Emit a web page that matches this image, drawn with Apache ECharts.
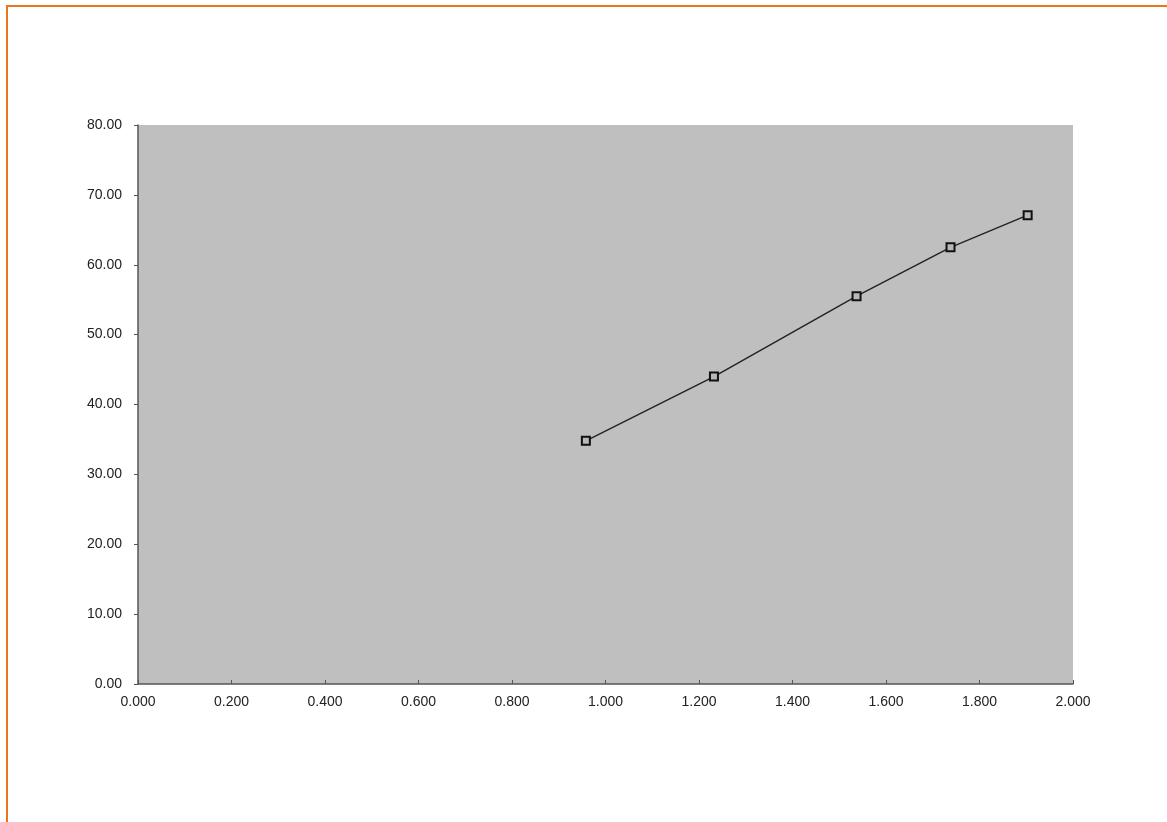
<!DOCTYPE html>
<html>
<head>
<meta charset="utf-8">
<script src="https://cdn.jsdelivr.net/npm/echarts@6/dist/echarts.min.js"></script>
<style>
html,body{margin:0;padding:0;background:#fff;}
#frame{position:absolute;left:6px;top:5px;width:1161px;height:817px;border-top:2px solid #E8761E;border-left:2px solid #E8761E;box-sizing:border-box;}
#chart{position:absolute;left:0;top:0;width:1167px;height:822px;}
</style>
</head>
<body>
<div id="frame"></div>
<div id="chart"></div>
<script>
var xValues = [0.958, 1.232, 1.537, 1.738, 1.903];
var yValues = [34.8, 44.0, 55.5, 62.5, 67.1];
var xTicks = {min: 0, max: 2, interval: 0.2};
var yTicks = {min: 0, max: 80, interval: 10};

var chart = echarts.init(document.getElementById('chart'), null, {renderer: 'canvas'});
var pts = xValues.map(function (x, i) { return [x, yValues[i]]; });
chart.setOption({
  animation: false,
  grid: {left: 138, right: 94, top: 125, bottom: 138, show: true, backgroundColor: '#bfbfbf', borderWidth: 0},
  xAxis: {
    type: 'value', min: xTicks.min, max: xTicks.max, interval: xTicks.interval,
    axisLine: {show: true, lineStyle: {color: '#555', width: 1.5}},
    axisTick: {show: true, inside: true, length: 4, lineStyle: {color: '#555'}},
    splitLine: {show: false},
    axisLabel: {color: '#222', fontSize: 14, fontFamily: 'Liberation Sans, Arial, sans-serif', margin: 11,
      formatter: function (v) { return v.toFixed(3); }}
  },
  yAxis: {
    type: 'value', min: yTicks.min, max: yTicks.max, interval: yTicks.interval,
    axisLine: {show: true, lineStyle: {color: '#555', width: 1.5}},
    axisTick: {show: true, inside: false, length: 4, lineStyle: {color: '#555'}},
    splitLine: {show: false},
    axisLabel: {color: '#222', fontSize: 14, fontFamily: 'Liberation Sans, Arial, sans-serif', margin: 16,
      formatter: function (v) { return v.toFixed(2); }}
  },
  series: [{
    type: 'line',
    data: pts,
    symbol: 'rect',
    symbolSize: 8,
    lineStyle: {color: '#222', width: 1.4},
    itemStyle: {color: '#b8b8b8', borderColor: '#111', borderWidth: 2}
  }]
});
</script>
</body>
</html>
